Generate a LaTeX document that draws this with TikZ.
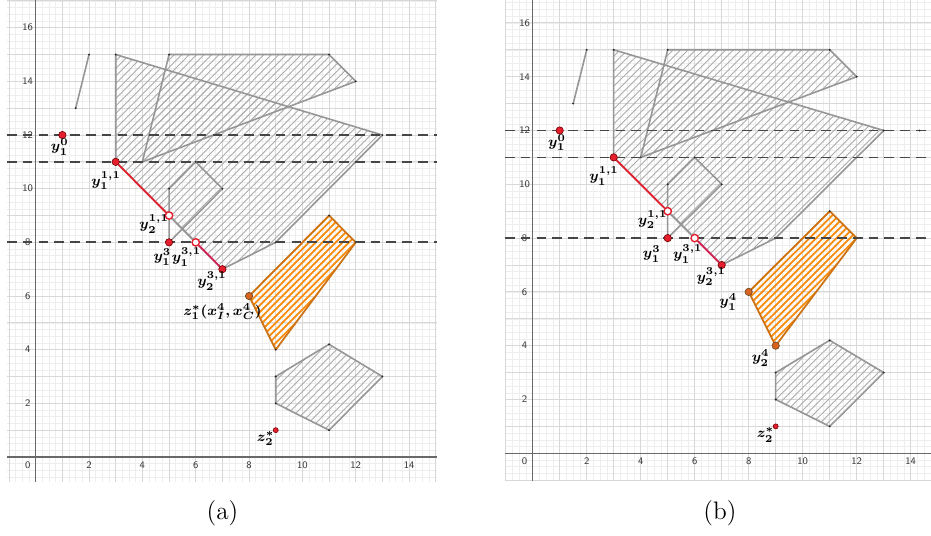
\documentclass[tikz,border=0pt]{standalone}
\usepackage{xcolor}
\usepackage{amsmath}
\usepackage{tikz}
\usetikzlibrary{positioning}
\definecolor{gridmajor}{RGB}{216,216,216}
\definecolor{gridminor}{RGB}{238,238,238}
\definecolor{axisgray}{RGB}{105,105,105}
\definecolor{polygray}{RGB}{150,150,150}
\definecolor{hatchgray}{RGB}{172,172,172}
\definecolor{dashdark}{RGB}{70,70,70}
\definecolor{myorange}{RGB}{205,115,20}
\definecolor{hatchorange}{RGB}{250,140,10}
\definecolor{ptorange}{RGB}{215,100,30}
\definecolor{myred}{RGB}{228,30,45}
\definecolor{mycrimson}{RGB}{215,30,80}
\definecolor{tickdark}{RGB}{55,55,55}
\tikzset{
  minorgrid/.style={gridminor, line width=0.3pt},
  majorgrid/.style={gridmajor, line width=0.55pt},
  axisline/.style={axisgray, line width=0.75pt},
  polyedge/.style={polygray, line width=0.9pt, line join=round},
  orangeedge/.style={myorange, line width=1pt, line join=round},
  hatchline/.style={hatchgray, line width=0.5pt},
  orangehatch/.style={hatchorange, line width=1pt},
  dashlevel/.style={dashdark, line width=1pt, dash pattern=on 5.5pt off 3.5pt},
  vtxdot/.style={fill=black!85},
  redpt/.style={circle, draw=red!45!black, fill=myred, inner sep=0pt,
    minimum size=4.2pt, line width=0.35pt},
  openpt/.style={circle, draw=myred, fill=white, inner sep=0pt,
    minimum size=4.2pt, line width=0.8pt},
  orangept/.style={circle, draw=brown!55!black, fill=ptorange, inner sep=0pt,
    minimum size=4.2pt, line width=0.35pt},
  smallpt/.style={circle, draw=red!45!black, fill=myred, inner sep=0pt,
    minimum size=2.9pt, line width=0.3pt},
  redseg/.style={myred, line width=1pt},
  crimsonseg/.style={mycrimson, line width=1pt},
  grayseg/.style={polygray, line width=1pt},
  ptlabel/.style={font=\fontsize{8.5}{10}\selectfont\boldmath, inner sep=0pt},
  ticklabel/.style={font=\fontsize{5.7}{6}\selectfont\sffamily, text=tickdark, inner sep=0pt},
  captext/.style={font=\Large, inner sep=0pt}
}
% grid, axes, polygons and level lines shared by both panels
% #1 xmin, #2 xmax, #3 ymin, #4 ymax
\newcommand{\basefigure}[4]{%
  \begin{scope}
    \clip (#1,#3) rectangle (#2,#4);
    \foreach \k in {-8,...,64} \draw[minorgrid] (\k/4,#3) -- (\k/4,#4);
    \foreach \k in {-8,...,72} \draw[minorgrid] (#1,\k/4) -- (#2,\k/4);
    \foreach \k in {-2,...,16} \draw[majorgrid] (\k,#3) -- (\k,#4);
    \foreach \k in {-2,...,18} \draw[majorgrid] (#1,\k) -- (#2,\k);
    \draw[axisline] (#1,0) -- (#2,0);
    \draw[axisline] (0,#3) -- (0,#4);
  \end{scope}
  % tick labels
  \node[ticklabel] (t0) at (-0.3,-0.3) {0};
  \foreach \t in {2,4,...,14} \node[ticklabel] (tx\t) at (\t,-0.3) {\t};
  \foreach \t in {2,4,...,16} \node[ticklabel] (ty\t) at (-0.3,\t) {\t};
  % vertices
  \coordinate (s1) at (1.5,13); \coordinate (s2) at (2,15);
  \coordinate (a1) at (3,11); \coordinate (a2) at (3,15);
  \coordinate (a3) at (13,12); \coordinate (a4) at (9,8);
  \coordinate (a5) at (7,7);
  \coordinate (b1) at (4,11); \coordinate (b2) at (5,15);
  \coordinate (b3) at (11,15); \coordinate (b4) at (12,14);
  \coordinate (c1) at (5,8); \coordinate (c2) at (5,10);
  \coordinate (c3) at (6,11); \coordinate (c4) at (7,10);
  \coordinate (d1) at (8,6); \coordinate (d2) at (11,9);
  \coordinate (d3) at (12,8); \coordinate (d4) at (9,4);
  \coordinate (e1) at (9,2); \coordinate (e2) at (9,3);
  \coordinate (e3) at (11,4.2); \coordinate (e4) at (13,3);
  \coordinate (e5) at (11,1);
  % gray hatching
  \begin{scope}
    \clip (a1) -- (a2) -- (a3) -- (a4) -- (a5) -- cycle;
    \foreach \k in {-50,...,50} \draw[hatchline] (\k*0.28-4,-4) -- ++(24,24);
  \end{scope}
  \begin{scope}
    \clip (b1) -- (b2) -- (b3) -- (b4) -- cycle;
    \foreach \k in {-50,...,50} \draw[hatchline] (\k*0.28-4,-4) -- ++(24,24);
  \end{scope}
  \begin{scope}
    \clip (e1) -- (e2) -- (e3) -- (e4) -- (e5) -- cycle;
    \foreach \k in {-50,...,50} \draw[hatchline] (\k*0.28-4,-4) -- ++(24,24);
  \end{scope}
  % orange hatching
  \begin{scope}
    \clip (d1) -- (d2) -- (d3) -- (d4) -- cycle;
    \foreach \k in {8,...,21} \draw[orangehatch] (\k/4-4,-4) -- ++(24,24);
  \end{scope}
  % polygon edges
  \draw[polyedge] (s1) -- (s2);
  \draw[polyedge] (a1) -- (a2) -- (a3) -- (a4) -- (a5) -- cycle;
  \draw[polyedge] (b1) -- (b2) -- (b3) -- (b4) -- cycle;
  \draw[polyedge] (c1) -- (c2) -- (c3) -- (c4) -- cycle;
  \draw[polyedge] (e1) -- (e2) -- (e3) -- (e4) -- (e5) -- cycle;
  \draw[orangeedge] (d1) -- (d2) -- (d3) -- (d4) -- cycle;
  \foreach \v in {s1,s2,a2,a3,a4,b1,b2,b3,b4,c2,c3,c4,d2,d3,d4,e1,e2,e3,e4,e5}
    \fill[vtxdot] (\v) circle (0.6pt);
  % level lines
  \foreach \h in {12,11,8} \draw[dashlevel] (#1,\h) -- (#2,\h);
  % points on the path
  \node[redpt] (y10) at (1,12) {};
  \node[redpt] (y111) at (a1) {};
  \node[openpt] (y211) at (5,9) {};
  \node[redpt] (y13) at (c1) {};
  \node[openpt] (y131) at (6,8) {};
  \node[redpt] (y231) at (a5) {};
  \node[smallpt] (z2) at (9,1) {};
  \draw[redseg] (y111) -- (y211);
  \draw[grayseg] (y211) -- (y131);
  \draw[crimsonseg] (y131) -- (y231);
  % common labels
  \node[ptlabel] (ly10) at (0.9,11.55) {$y_1^0$};
  \node[ptlabel] (ly111) at (2.64,10.3) {$y_1^{1,1}$};
  \node[ptlabel] (ly211) at (4.44,8.68) {$y_2^{1,1}$};
  \node[ptlabel] (ly231) at (6.61,6.56) {$y_2^{3,1}$};
  \node[ptlabel] (lz2) at (8.62,0.68) {$z_2^*$};
}

\begin{document}
\begin{tikzpicture}
  \useasboundingbox (0,0) rectangle (18.62,10.72);
  \fill[white] (0,0) rectangle (18.62,10.72);

  % Panel (a)
  \begin{scope}[shift={(0.714,1.58)}, x=0.5334cm, y=0.5366cm]
    \basefigure{-1.08}{15.05}{-0.93}{17.03}
    \node[orangept] (z1) at (d1) {};
    \node[ptlabel] (ly13) at (4.75,7.45) {$y_1^3$};
    \node[ptlabel] (ly131) at (5.65,7.45) {$y_1^{3,1}$};
    \node[ptlabel] (lz1) at (7.0,5.42) {$z_1^*(x_I^4,x_C^4)$};
  \end{scope}
  \node[captext] (capa) at (4.45,0.46) {(a)};

  % Panel (b)
  \begin{scope}[shift={(10.654,1.654)}, x=0.54cm, y=0.538cm]
    \basefigure{-1.03}{14.76}{-1.02}{16.86}
    \fill[vtxdot] (14.32,12) circle (0.6pt);
    \node[orangept] (y14) at (d1) {};
    \node[orangept] (y24) at (d4) {};
    \node[ptlabel] (ly13) at (4.41,7.41) {$y_1^3$};
    \node[ptlabel] (ly131) at (5.74,7.41) {$y_1^{3,1}$};
    \node[ptlabel] (ly14) at (7.24,5.62) {$y_1^4$};
    \node[ptlabel] (ly24) at (8.44,3.54) {$y_2^4$};
  \end{scope}
  \node[captext] (capb) at (14.4,0.46) {(b)};
\end{tikzpicture}
\end{document}
